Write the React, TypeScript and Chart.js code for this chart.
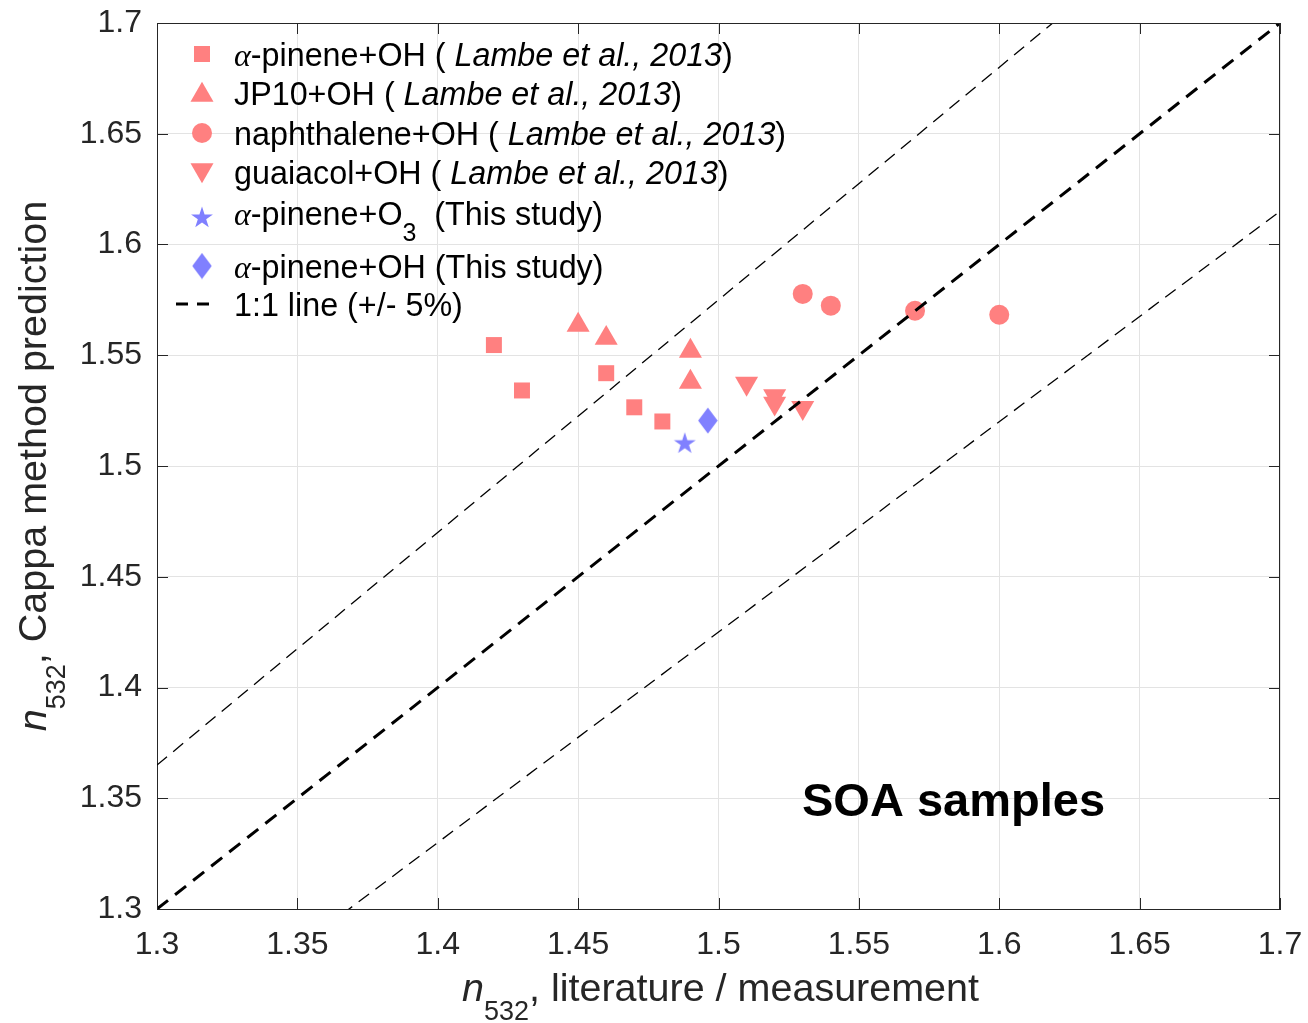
import React, { useEffect, useRef } from 'react';
import { Chart, registerables } from 'chart.js';

Chart.register(...registerables);

const PINK = 'rgb(255,128,128)';
const BLUE = 'rgb(128,128,255)';
const AXIS_COLOR = '#262626';
const SANS = '"Liberation Sans", Arial, Helvetica, sans-serif';
const SERIF = '"Liberation Serif", "DejaVu Serif", serif';

// ---- data (n532 literature/measurement vs Cappa method prediction) ----
const apineneOhLambeX = [1.42, 1.43, 1.46, 1.47, 1.48];
const apineneOhLambeY = [1.5546, 1.5341, 1.5419, 1.5265, 1.5201];
const jp10OhX = [1.45, 1.46, 1.49, 1.49];
const jp10OhY = [1.5636, 1.5577, 1.5519, 1.5379];
const naphthaleneOhX = [1.53, 1.54, 1.57, 1.6];
const naphthaleneOhY = [1.5777, 1.5724, 1.5701, 1.5683];
const guaiacolOhX = [1.51, 1.52, 1.52, 1.53];
const guaiacolOhY = [1.5373, 1.5316, 1.5283, 1.5263];
const apineneO3StudyX = [1.488];
const apineneO3StudyY = [1.5105];
const apineneOhStudyX = [1.4962];
const apineneOhStudyY = [1.5205];

// reference lines: 1:1 and +/-5 %
const refLineX = [1.3, 1.7];
const oneToOneY = [1.3, 1.7];
const plusFiveY = [1.365, 1.785];
const minusFiveY = [1.235, 1.615];

const xTickValues = [1.3, 1.35, 1.4, 1.45, 1.5, 1.55, 1.6, 1.65, 1.7];
const xTickLabels = ['1.3', '1.35', '1.4', '1.45', '1.5', '1.55', '1.6', '1.65', '1.7'];
const yTickValues = [1.3, 1.35, 1.4, 1.45, 1.5, 1.55, 1.6, 1.65, 1.7];
const yTickLabels = ['1.3', '1.35', '1.4', '1.45', '1.5', '1.55', '1.6', '1.65', '1.7'];

const pts = (xs: number[], ys: number[]) => xs.map((x, i) => ({ x, y: ys[i] }));

// ---- marker drawing helpers ----
function pathStar(ctx: CanvasRenderingContext2D, cx: number, cy: number, R: number) {
  const r = R * 0.382;
  ctx.beginPath();
  for (let i = 0; i < 10; i++) {
    const ang = -Math.PI / 2 + (i * Math.PI) / 5;
    const rr = i % 2 === 0 ? R : r;
    const px = cx + rr * Math.cos(ang);
    const py = cy + rr * Math.sin(ang);
    if (i === 0) ctx.moveTo(px, py);
    else ctx.lineTo(px, py);
  }
  ctx.closePath();
}
function pathDiamond(ctx: CanvasRenderingContext2D, cx: number, cy: number, w: number, h: number) {
  ctx.beginPath();
  ctx.moveTo(cx, cy - h / 2);
  ctx.lineTo(cx + w / 2, cy);
  ctx.lineTo(cx, cy + h / 2);
  ctx.lineTo(cx - w / 2, cy);
  ctx.closePath();
}
function pathTriangle(ctx: CanvasRenderingContext2D, cx: number, cy: number, r: number, down: boolean) {
  const s = down ? -1 : 1;
  ctx.beginPath();
  ctx.moveTo(cx, cy - s * r);
  ctx.lineTo(cx + r * 0.866, cy + (s * r) / 2);
  ctx.lineTo(cx - r * 0.866, cy + (s * r) / 2);
  ctx.closePath();
}

function makeStarCanvas(): HTMLCanvasElement {
  const c = document.createElement('canvas');
  c.width = 26;
  c.height = 26;
  const g = c.getContext('2d')!;
  g.fillStyle = BLUE;
  pathStar(g, 13, 14, 11.5);
  g.fill();
  return c;
}
function makeDiamondCanvas(): HTMLCanvasElement {
  const c = document.createElement('canvas');
  c.width = 20;
  c.height = 27;
  const g = c.getContext('2d')!;
  g.fillStyle = BLUE;
  pathDiamond(g, 10, 13.5, 19.5, 26);
  g.fill();
  return c;
}

type Seg = { t: string; font: string; dy?: number };
function segWidth(ctx: CanvasRenderingContext2D, segs: Seg[]) {
  let w = 0;
  for (const s of segs) {
    ctx.font = s.font;
    w += ctx.measureText(s.t).width;
  }
  return w;
}
function drawSegs(ctx: CanvasRenderingContext2D, segs: Seg[], x: number, y: number) {
  let cx = x;
  for (const s of segs) {
    ctx.font = s.font;
    ctx.fillText(s.t, cx, y + (s.dy || 0));
    cx += ctx.measureText(s.t).width;
  }
}

const LEG = `32.3px ${SANS}`;
const LEG_I = `italic 32.3px ${SANS}`;
const LEG_A = `italic 32px ${SERIF}`;
const LEG_SUB = `25px ${SANS}`;

const legendRows: { y: number; segs: Seg[] }[] = [
  { y: 54, segs: [{ t: 'α', font: LEG_A }, { t: '-pinene+OH ( ', font: LEG }, { t: 'Lambe et al., 2013', font: LEG_I }, { t: ')', font: LEG }] },
  { y: 93, segs: [{ t: 'JP10+OH ( ', font: LEG }, { t: 'Lambe et al., 2013', font: LEG_I }, { t: ')', font: LEG }] },
  { y: 133, segs: [{ t: 'naphthalene+OH ( ', font: LEG }, { t: 'Lambe et al., 2013', font: LEG_I }, { t: ')', font: LEG }] },
  { y: 172, segs: [{ t: 'guaiacol+OH ( ', font: LEG }, { t: 'Lambe et al., 2013', font: LEG_I }, { t: ')', font: LEG }] },
  { y: 213, segs: [{ t: 'α', font: LEG_A }, { t: '-pinene+O', font: LEG }, { t: '3', font: LEG_SUB, dy: 16 }, { t: '  (This study)', font: LEG }] },
  { y: 266, segs: [{ t: 'α', font: LEG_A }, { t: '-pinene+OH (This study)', font: LEG }] },
  { y: 304, segs: [{ t: '1:1 line (+/- 5%)', font: LEG }] },
];

const zeroPad = (s: any) => {
  s.paddingTop = 0;
  s.paddingBottom = 0;
  s.paddingLeft = 0;
  s.paddingRight = 0;
};

export default function App() {
  const ref = useRef<HTMLCanvasElement | null>(null);

  useEffect(() => {
    const canvas = ref.current;
    if (!canvas) return;
    const starImg = makeStarCanvas();
    const diamondImg = makeDiamondCanvas();

    const decor = {
      id: 'decor',
      afterDraw(chart: any) {
        const { ctx, chartArea: a, scales } = chart;
        ctx.save();
        // box: top and right edges + inward ticks
        ctx.strokeStyle = AXIS_COLOR;
        ctx.lineWidth = 1;
        ctx.beginPath();
        ctx.moveTo(a.left, a.top + 0.5);
        ctx.lineTo(a.right, a.top + 0.5);
        ctx.moveTo(a.right - 0.5, a.top);
        ctx.lineTo(a.right - 0.5, a.bottom);
        const TL = 11;
        for (const v of xTickValues) {
          const px = Math.round(scales.x.getPixelForValue(v)) + 0.5;
          ctx.moveTo(px, a.bottom);
          ctx.lineTo(px, a.bottom - TL);
          ctx.moveTo(px, a.top);
          ctx.lineTo(px, a.top + TL);
        }
        for (const v of yTickValues) {
          const py = Math.round(scales.y.getPixelForValue(v)) + 0.5;
          ctx.moveTo(a.left, py);
          ctx.lineTo(a.left + TL, py);
          ctx.moveTo(a.right, py);
          ctx.lineTo(a.right - TL, py);
        }
        ctx.stroke();

        // legend
        const mx = 202;
        const tx = 234;
        ctx.fillStyle = PINK;
        ctx.fillRect(mx - 8, legendRows[0].y - 8, 16, 16);
        pathTriangle(ctx, mx, legendRows[1].y + 2, 13.3, false);
        ctx.fill();
        ctx.beginPath();
        ctx.arc(mx, legendRows[2].y, 10, 0, Math.PI * 2);
        ctx.fill();
        pathTriangle(ctx, mx, legendRows[3].y - 2, 13.3, true);
        ctx.fill();
        ctx.drawImage(starImg, mx - 13, legendRows[4].y + 4 - 13);
        ctx.drawImage(diamondImg, mx - 10, legendRows[5].y - 13.5);
        ctx.strokeStyle = '#000';
        ctx.lineWidth = 3;
        ctx.setLineDash([12, 9]);
        ctx.beginPath();
        ctx.moveTo(176, legendRows[6].y);
        ctx.lineTo(218, legendRows[6].y);
        ctx.stroke();
        ctx.setLineDash([]);

        ctx.fillStyle = '#000';
        ctx.textBaseline = 'alphabetic';
        ctx.textAlign = 'left';
        for (const row of legendRows) drawSegs(ctx, row.segs, tx, row.y + 11.5);

        // annotation
        ctx.font = `bold 47px ${SANS}`;
        ctx.fillStyle = '#000';
        ctx.fillText('SOA samples', 802, 816);

        // axis titles
        ctx.fillStyle = AXIS_COLOR;
        const TF = `39.5px ${SANS}`;
        const TFI = `italic 39.5px ${SANS}`;
        const TFS = `27px ${SANS}`;
        const xTitle: Seg[] = [
          { t: 'n', font: TFI },
          { t: '532', font: TFS, dy: 19 },
          { t: ',', font: TF },
          { t: ' literature / measurement', font: TF },
        ];
        const xw = segWidth(ctx, xTitle);
        drawSegs(ctx, xTitle, (a.left + a.right) / 2 - xw / 2 + 2, 1001);

        const yTitle: Seg[] = [
          { t: 'n', font: TFI },
          { t: '532', font: TFS, dy: 19 },
          { t: ',', font: TF },
          { t: ' Cappa method prediction', font: TF },
        ];
        const yw = segWidth(ctx, yTitle);
        ctx.translate(46, (a.top + a.bottom) / 2);
        ctx.rotate(-Math.PI / 2);
        drawSegs(ctx, yTitle, -yw / 2, 0);
        ctx.restore();
      },
    };

    const lineDs = (ys: number[], width: number, dash: number[]) => ({
      data: pts(refLineX, ys),
      showLine: true,
      borderColor: '#000',
      borderWidth: width,
      borderDash: dash,
      pointRadius: 0,
      fill: false,
      clip: 0,
      order: 0,
    });
    const markerDs = (xs: number[], ys: number[], style: any, radius: number, color: string, rotation = 0) => ({
      data: pts(xs, ys),
      pointStyle: style,
      pointRadius: radius,
      pointRotation: rotation,
      backgroundColor: color,
      borderColor: color,
      borderWidth: 0,
      order: 1,
    });

    const chart = new Chart(canvas, {
      type: 'scatter',
      data: {
        datasets: [
          lineDs(plusFiveY, 1.3, [13, 8]),
          lineDs(oneToOneY, 3, [14, 9]),
          lineDs(minusFiveY, 1.3, [13, 8]),
          markerDs(apineneOhLambeX, apineneOhLambeY, 'rect', 11.3, PINK),
          markerDs(jp10OhX, jp10OhY, 'triangle', 13.3, PINK),
          markerDs(naphthaleneOhX, naphthaleneOhY, 'circle', 10, PINK),
          markerDs(guaiacolOhX, guaiacolOhY, 'triangle', 13.3, PINK, 180),
          markerDs(apineneO3StudyX, apineneO3StudyY, starImg, 10, BLUE),
          markerDs(apineneOhStudyX, apineneOhStudyY, diamondImg, 10, BLUE),
        ] as any,
      },
      options: {
        responsive: false,
        animation: false,
        devicePixelRatio: 1,
        events: [],
        layout: { padding: { left: 0, top: 23, right: 28, bottom: 0 } },
        plugins: { legend: { display: false }, tooltip: { enabled: false } },
        scales: {
          x: {
            type: 'linear',
            min: 1.3,
            max: 1.7,
            afterBuildTicks: (s: any) => {
              s.ticks = xTickValues.map((v) => ({ value: v }));
            },
            afterFit: (s: any) => {
              s.height = 114;
              zeroPad(s);
            },
            ticks: {
              autoSkip: false,
              maxRotation: 0,
              padding: 17,
              color: AXIS_COLOR,
              font: { family: SANS, size: 32 },
              callback: (_v: any, i: number) => xTickLabels[i],
            },
            grid: { color: '#e3e3e3', lineWidth: 1, drawTicks: false },
            border: { color: AXIS_COLOR, width: 1 },
          },
          y: {
            type: 'linear',
            min: 1.3,
            max: 1.7,
            afterBuildTicks: (s: any) => {
              s.ticks = yTickValues.map((v) => ({ value: v }));
            },
            afterFit: (s: any) => {
              s.width = 157;
              zeroPad(s);
            },
            ticks: {
              autoSkip: false,
              padding: 15,
              color: AXIS_COLOR,
              font: { family: SANS, size: 32 },
              callback: (_v: any, i: number) => yTickLabels[i],
            },
            grid: { color: '#e3e3e3', lineWidth: 1, drawTicks: false },
            border: { color: AXIS_COLOR, width: 1 },
          },
        },
      } as any,
      plugins: [decor],
    });

    return () => chart.destroy();
  }, []);

  return (
    <div style={{ position: 'fixed', left: 0, top: 0, width: 1308, height: 1023, background: '#fff' }}>
      <canvas ref={ref} width={1308} height={1023} style={{ display: 'block', width: 1308, height: 1023 }} />
    </div>
  );
}
